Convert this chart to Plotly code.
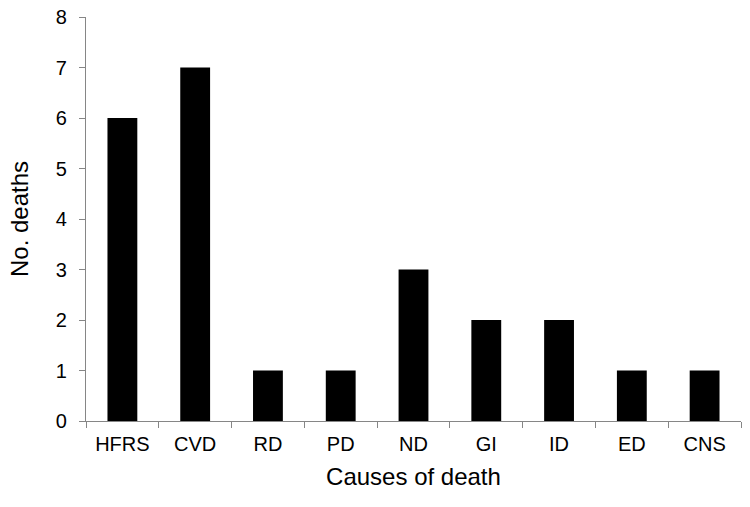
import plotly.graph_objects as go

categories = ["HFRS", "CVD", "RD", "PD", "ND", "GI", "ID", "ED", "CNS"]
deaths = [6, 7, 1, 1, 3, 2, 2, 1, 1]
y_ticks = [0, 1, 2, 3, 4, 5, 6, 7, 8]

fig = go.Figure(go.Bar(x=categories, y=deaths, marker=dict(color="black", line=dict(width=0))))

font = "Liberation Sans, Arial, sans-serif"
fig.update_layout(
    width=750, height=507,
    margin=dict(l=86, r=9, t=17, b=86, autoexpand=False),
    plot_bgcolor="white", paper_bgcolor="white",
    bargap=0.59,
    showlegend=False,
    font=dict(family=font, color="black", size=20),
)
fig.update_xaxes(
    showline=True, linecolor="#868686", linewidth=1.3,
    ticks="outside", tickson="boundaries", ticklen=6, tickcolor="#868686", tickwidth=1.3,
    tickfont=dict(size=20, family=font), ticklabelstandoff=5,
    title=dict(text="Causes of death", font=dict(size=24, family=font), standoff=14),
    showgrid=False,
)
fig.update_yaxes(
    range=[0, 8], tickvals=y_ticks,
    showline=True, linecolor="#868686", linewidth=1.3,
    ticks="outside", ticklen=6, tickcolor="#868686", tickwidth=1.3,
    tickfont=dict(size=20, family=font), ticklabelstandoff=8, ticklabeloverflow="allow",
    title=dict(text="No. deaths", font=dict(size=24, family=font), standoff=20),
    showgrid=False, zeroline=False,
)
fig.write_html("out.html", config={"displayModeBar": False},
               post_script="document.body.style.margin='0';")
